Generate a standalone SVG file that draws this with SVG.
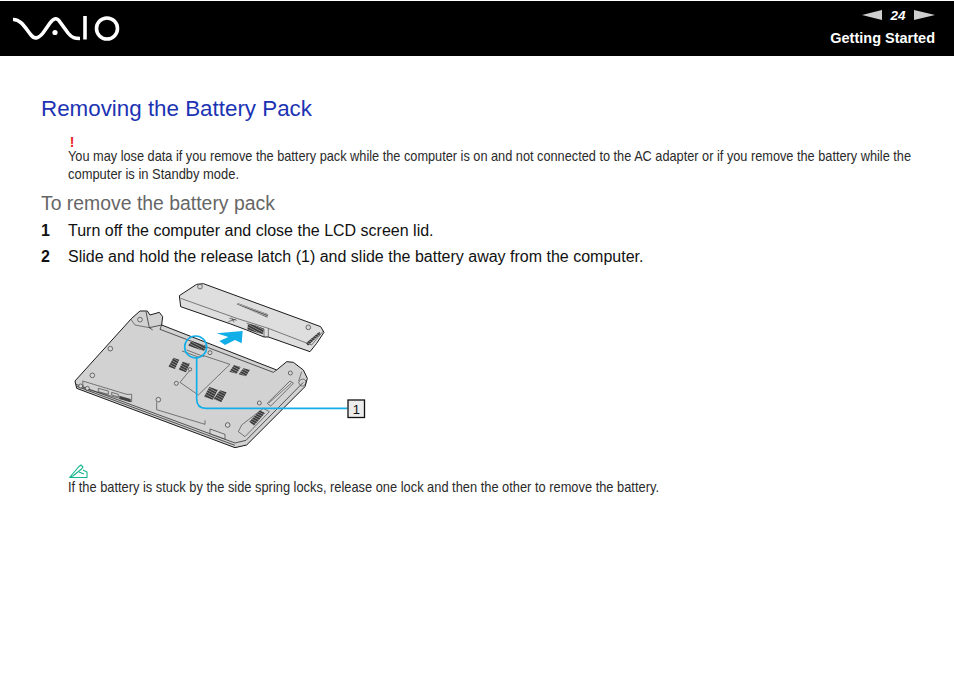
<svg xmlns="http://www.w3.org/2000/svg" width="954" height="674" viewBox="0 0 954 674">
<defs>
<pattern id="vent" width="7" height="7" patternUnits="userSpaceOnUse" patternTransform="rotate(-62)">
<rect width="7" height="7" fill="#3a3a3a"/><rect width="2" height="7" fill="#9a9a9a"/>
</pattern>
<pattern id="fine" width="5" height="5" patternUnits="userSpaceOnUse" patternTransform="rotate(-70)">
<rect width="5" height="5" fill="#555"/><rect width="2" height="5" fill="#c4c4c4"/>
</pattern>
</defs>
<style>
text{font-family:"Liberation Sans",Arial,sans-serif}
.body{font-size:16px;fill:#111}
.note{font-size:14px;fill:#2a2a2a}
.o{fill:#d2d2d2;stroke:#1a1a1a;stroke-width:3;stroke-linejoin:round}
.b{fill:#dedede;stroke:#1a1a1a;stroke-width:3;stroke-linejoin:round}
.l{fill:none;stroke:#333;stroke-width:1.800}
.e{fill:none;stroke:#222;stroke-width:2.200}
.h{fill:#d8d8d8;stroke:#333;stroke-width:2}
.v{fill:url(#vent)}
.f{fill:url(#fine)}
.c{fill:none;stroke:#12aee8;stroke-width:5}
</style>
<rect width="954" height="674" fill="#fff"/>
<g id="header">
<rect y="1" width="954" height="55" fill="#000"/>
<g id="logo" fill="none" stroke="#fff" stroke-width="3.600">
<path d="M13 19.500C21 19 26 29 31 35C35 40 39 38 43 33L50 23C54 17.500 57 17.500 60 22L68 33C72 38 75 38.500 80 38.500"/>
<path d="M85 16V39.500"/>
<circle cx="107" cy="28.500" r="10.500"/>
</g>
<circle cx="55" cy="32.500" r="2.600" fill="#fff"/>
<polygon points="862,15 882,10 882,20" fill="#cfcfcf"/>
<text x="898" y="19.500" text-anchor="middle" font-size="13.500" font-weight="700" font-style="italic" fill="#fff">24</text>
<polygon points="914,10 935,15 914,20" fill="#cfcfcf"/>
<text x="935" y="43" text-anchor="end" font-size="14.500" font-weight="700" fill="#fff">Getting Started</text>
</g>
<text x="41" y="116" font-size="22.500" fill="#1c33b4" textLength="271" lengthAdjust="spacingAndGlyphs">Removing the Battery Pack</text>
<text x="72" y="147" font-size="14" font-weight="700" fill="#ee1c25" text-anchor="middle">!</text>
<text class="note" transform="translate(68 161) scale(.865 1)" textLength="974.600" lengthAdjust="spacingAndGlyphs">You may lose data if you remove the battery pack while the computer is on and not connected to the AC adapter or if you remove the battery while the</text>
<text class="note" transform="translate(68 179) scale(.865 1)" textLength="197.700" lengthAdjust="spacingAndGlyphs">computer is in Standby mode.</text>
<text x="41" y="210" font-size="19.400" fill="#666">To remove the battery pack</text>
<text class="body" x="41" y="236" font-weight="700">1</text>
<text class="body" x="68" y="236">Turn off the computer and close the LCD screen lid.</text>
<text class="body" x="41" y="262" font-weight="700">2</text>
<text class="body" x="68" y="262">Slide and hold the release latch (1) and slide the battery away from the computer.</text>
<g transform="translate(60 275) scale(.33333)">
<g id="laptop">
<path class="o" d="M45 318L215 130L240 108H262L270 120L298 112L308 125L305 150L650 285L680 260L700 262L730 285L742 310L735 335L560 510L525 518L50 340Z"/>
<path class="e" d="M48 328L525 504L558 496L730 322M50 334L525 511M268 158L305 150M258 110L268 158L278 165M305 150L300 163L640 292L650 285"/>
<path class="l" d="M212 132L225 150L268 158M725 290L716 318"/>
<path class="l" d="M290 382V404L435 448V436M360 322L388 288M360 322L415 360L510 268L425 240M366 228L420 248"/>
<path class="l" d="M68 318L200 358L215 358V380L70 340Z"/>
<path class="l" d="M115 340L145 348V358L115 350ZM155 352L175 358V366L155 360Z"/>
<path fill="#444" d="M178 362L212 372V382L178 372Z"/>
<circle class="h" cx="62" cy="333" r="6"/><circle class="h" cx="82" cy="340" r="6"/>
<g class="h"><circle cx="97" cy="301" r="7"/><circle cx="240" cy="134" r="7"/><circle cx="151" cy="221" r="7"/><circle cx="295" cy="374" r="7"/><circle cx="503" cy="450" r="7"/><circle cx="598" cy="384" r="6"/><circle cx="691" cy="294" r="6"/><circle cx="349" cy="325" r="6"/><circle cx="390" cy="283" r="5"/><circle cx="450" cy="233" r="6"/></g>
<path class="v" d="M340 248L358 254L345 282L325 275ZM368 260L390 266L378 292L356 284ZM522 270L542 276L530 296L508 290ZM550 280L570 284L558 304L536 298ZM448 336L474 344L458 374L432 365ZM480 346L500 352L484 382L460 372Z"/>
<path class="h" d="M622 385L690 318L700 325L632 393Z"/>
<path class="l" d="M627 384L694 324"/>
<path class="l" d="M535 470L545 450L610 400L628 410L555 485Z"/>
<path class="v" d="M568 440L600 406L615 414L582 452Z"/>
<path class="h" d="M450 462L495 478V492L450 476Z"/>
<path class="l" d="M716 322C722 308 738 310 738 322C736 334 722 340 716 322Z"/>
<path class="v" d="M384 212L394 198L440 213L432 228Z"/>
<path class="l" d="M380 225L432 245"/>
</g>
<g id="battery">
<path class="b" d="M358 62L410 28L430 26L782 155L792 172L770 205L750 230L625 186L612 186L560 165L512 147L362 95Z"/>
<path class="l" d="M362 70L530 130L625 160L755 210L790 168M625 160V186M560 145L612 162V186"/>
<circle class="h" cx="420" cy="35" r="7"/><circle class="h" cx="745" cy="157" r="7"/>
<path class="f" d="M530 88L533 84L625 118L622 128Z"/>
<path class="v" d="M564 146L590 152L612 162L608 178L562 164Z"/>
<path class="l" d="M508 130L530 136M515 128L522 142M505 140L528 132"/>
<path class="v" d="M738 204L778 170L782 176L744 212Z"/>
</g>
<polygon id="arrow" points="470,175 548,168 545,205 525,195 495,210 478,198 505,186" fill="#12aee8"/>
</g>
<g id="connectors" transform="translate(60 275) scale(.33333)">
<path class="c" d="M410 248V372C410 390 420 400 438 400H862"/>
<ellipse class="c" cx="407" cy="216" rx="33" ry="33"/>
</g>
<g id="callout">
<rect x="348" y="400" width="16.500" height="17.500" fill="#ececec" stroke="#111" stroke-width="1.300"/>
<text x="356.300" y="414" text-anchor="middle" font-size="13" fill="#111">1</text>
</g>
<g id="note-icon" fill="none" stroke="#18b68e" stroke-width="1.100">
<path d="M70 477L79 466.500L81 465L83 467L81.500 469L73 476Z"/>
<path d="M70 477.500H87V472L83 470M79 472L84 474"/>
</g>
<text class="note" transform="translate(68 492) scale(.865 1)" textLength="683.200" lengthAdjust="spacingAndGlyphs">If the battery is stuck by the side spring locks, release one lock and then the other to remove the battery.</text>
</svg>
